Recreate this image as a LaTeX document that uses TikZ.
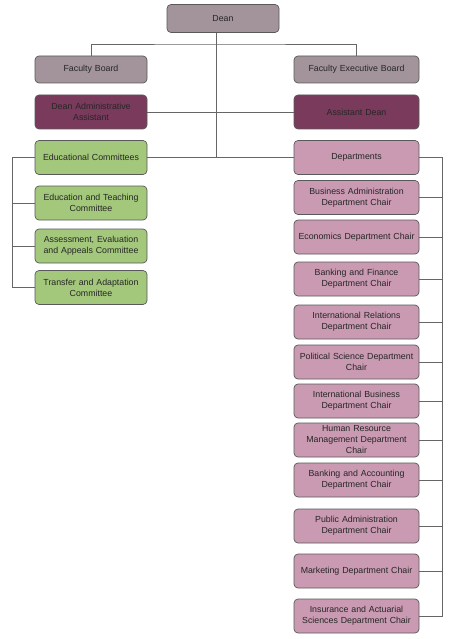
\documentclass[tikz,border=0pt]{standalone}
\usepackage{fontspec}
\setmainfont{Liberation Sans}
\definecolor{topgray}{HTML}{A3949B}
\definecolor{darkplum}{HTML}{7A3A5C}
\definecolor{leafgreen}{HTML}{A3C87B}
\definecolor{softpink}{HTML}{C99AB2}

\begin{document}
\begin{tikzpicture}[x=1pt,y=-1pt]
  \useasboundingbox (0,0) rectangle (452,639);
  \tikzset{box/.style={draw=black!65,line width=.7pt,rounded corners=4pt,align=center,
             inner sep=1pt,font=\fontsize{8.8}{11}\selectfont,text=black!85},
           lbox/.style={box,minimum width=112pt,minimum height=34pt,text width=110pt},
           rbox/.style={box,minimum width=125pt,minimum height=34pt,text width=123pt},
           link/.style={draw=black!60,line width=.6pt}}
  % top level
  \node[box,fill=topgray,minimum width=112pt,minimum height=28pt] (dean) at (223,18.5) {Dean};
  \node[lbox,fill=topgray,minimum height=27pt] (fb) at (91,69.5) {Faculty Board};
  \node[rbox,fill=topgray,minimum height=27pt] (feb) at (356.5,69.5) {Faculty Executive Board};
  \node[lbox,fill=darkplum] (daa) at (91,112) {Dean Administrative\\Assistant};
  \node[rbox,fill=darkplum] (ad) at (356.5,112) {Assistant Dean};
  % committees
  \node[lbox,fill=leafgreen] (ec) at (91,157.5) {Educational Committees};
  \node[lbox,fill=leafgreen] (etc) at (91,203) {Education and Teaching\\Committee};
  \node[lbox,fill=leafgreen] (aeac) at (91,246) {Assessment, Evaluation\\and Appeals Committee};
  \node[lbox,fill=leafgreen] (tac) at (91,287.5) {Transfer and Adaptation\\Committee};
  % departments
  \node[rbox,fill=softpink] (dep) at (356.5,157.5) {Departments};
  \node[rbox,fill=softpink] (bad) at (356.5,197.5) {Business Administration\\Department Chair};
  \node[rbox,fill=softpink] (eco) at (356.5,237) {Economics Department Chair};
  \node[rbox,fill=softpink] (bfd) at (356.5,279) {Banking and Finance\\Department Chair};
  \node[rbox,fill=softpink] (ird) at (356.5,322) {International Relations\\Department Chair};
  \node[rbox,fill=softpink] (psd) at (356.5,362) {Political Science Department\\Chair};
  \node[rbox,fill=softpink] (ibd) at (356.5,401) {International Business\\Department Chair};
  \node[rbox,fill=softpink] (hrd) at (356.5,440) {Human Resource\\Management Department\\Chair};
  \node[rbox,fill=softpink] (bac) at (356.5,480) {Banking and Accounting\\Department Chair};
  \node[rbox,fill=softpink] (pad) at (356.5,526) {Public Administration\\Department Chair};
  \node[rbox,fill=softpink] (mkt) at (356.5,571) {Marketing Department Chair};
  \node[rbox,fill=softpink] (ins) at (356.5,616) {Insurance and Actuarial\\Sciences Department Chair};
  % connectors
  \coordinate (trunk) at (216,44);
  \coordinate (lb) at (12,0);
  \coordinate (rb) at (442,0);
  \draw[link] (dean.south -| trunk) -- (trunk |- ec.east);
  \draw[link] (fb.north) |- (trunk) -| (feb.north);
  \draw[link] (daa.east) -- (ad.west);
  \draw[link] (ec.east) -- (trunk |- ec.east);
  \draw[link] (dep.west) -- (trunk |- dep.west);
  \draw[link] (ec.west) -- (ec.west -| lb) -- (tac.west -| lb) -- (tac.west);
  \foreach \n in {etc,aeac}
    \draw[link] (\n.west) -- (\n.west -| lb);
  \draw[link] (dep.east) -- (dep.east -| rb) -- (ins.east -| rb) -- (ins.east);
  \foreach \n in {bad,eco,bfd,ird,psd,ibd,hrd,bac,pad,mkt}
    \draw[link] (\n.east) -- (\n.east -| rb);
\end{tikzpicture}
\end{document}
